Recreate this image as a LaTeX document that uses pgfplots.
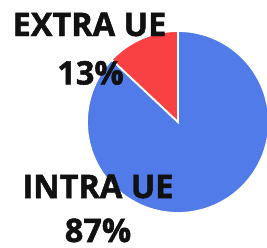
\documentclass[border=0pt]{standalone}
\usepackage{pgfplots}
\pgfplotsset{compat=1.18}
\usepackage{fontspec}
\setmainfont{Open Sans}[BoldFeatures={FakeBold=1.5}]
\definecolor{pieblue}{RGB}{80,123,232}
\definecolor{piered}{RGB}{249,64,66}
\definecolor{txt}{RGB}{17,17,17}
\begin{document}
\begin{tikzpicture}
\useasboundingbox (0,0) rectangle (267pt,247pt);
\pgfmathsetmacro{\extra}{13}
\pgfmathsetmacro{\intra}{87}
\pgfmathsetmacro{\aend}{90+\extra*3.6}
\begin{axis}[
  at={(0,0)}, anchor=south west,
  scale only axis, width=267pt, height=247pt,
  xmin=0, xmax=267, ymin=0, ymax=247, y dir=reverse,
  hide axis, clip=true,
]
\addplot[fill=pieblue, draw=white, line width=1.8pt, domain=\aend:450, samples=120]
  ({178+91*cos(x)},{122-91*sin(x)}) -- (axis cs:178,122) -- cycle;
\addplot[fill=piered, draw=white, line width=1.8pt, domain=90:\aend, samples=30]
  ({178+91*cos(x)},{122-91*sin(x)}) -- (axis cs:178,122) -- cycle;
\node[font=\fontsize{32.5}{32.5}\selectfont\bfseries, text=txt, anchor=base, inner sep=0pt] at (axis cs:89.5,36) {EXTRA UE};
\node[font=\fontsize{32.5}{32.5}\selectfont\bfseries, text=txt, anchor=base, inner sep=0pt] at (axis cs:90.5,84.5) {13\%};
\node[font=\fontsize{32.5}{32.5}\selectfont\bfseries, text=txt, anchor=base, inner sep=0pt] at (axis cs:98,198) {INTRA UE};
\node[font=\fontsize{32.5}{32.5}\selectfont\bfseries, text=txt, anchor=base, inner sep=0pt, text depth=0pt] at (axis cs:98,242) {87\%};
\end{axis}
\end{tikzpicture}
\end{document}
